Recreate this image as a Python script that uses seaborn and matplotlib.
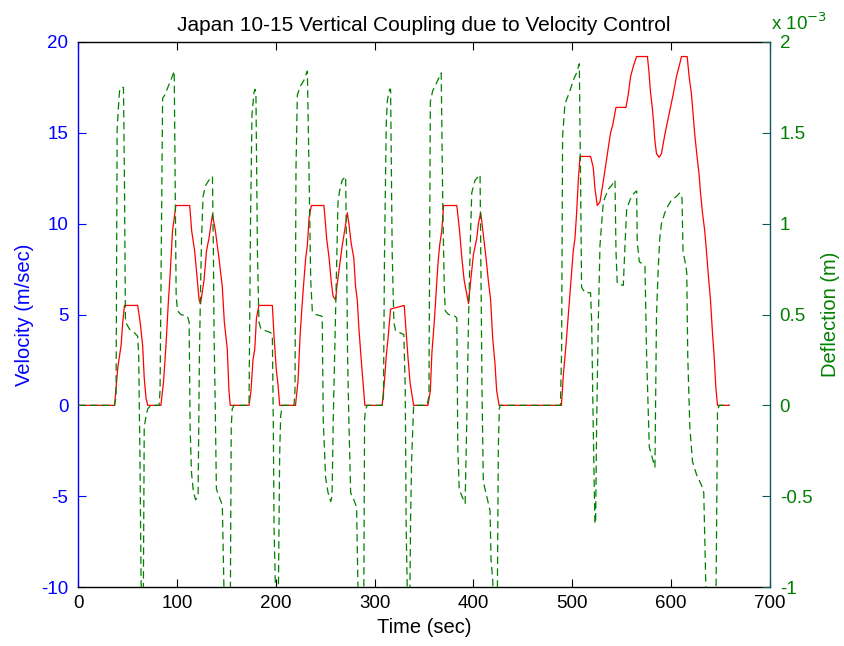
import matplotlib
matplotlib.use("Agg")
import matplotlib.pyplot as plt
import seaborn as sns
from matplotlib.ticker import FixedLocator, FuncFormatter

# Vehicle speed over the Japan 10-15 drive cycle (s, m/s)
vel_t = [
    0, 37, 40.3, 43.6, 45.3, 47, 60.4, 62.8, 65.4, 67, 68.8, 70.5,
    83.9, 86.6, 89, 91.3, 93.3, 95.6, 99, 113, 115, 118, 120, 122.5, 124,
    127.5, 130, 132.5, 136, 139, 142.6, 146, 148, 151, 152.7, 154,
    173, 175, 177, 178.8, 180.5, 183, 196.6, 198.3, 200.7, 202.4, 204,
    220, 222.6, 224.6, 226.3, 228, 230.3, 232, 233.7, 236, 248.8,
    251.5, 254, 256, 258, 260.6, 262, 264.6, 267.3, 269.7, 272.4,
    274, 276.4, 279, 280.8, 282.5, 284.2, 286.5, 288.5, 290.2,
    307.7, 310, 311.8, 313.8, 316.2, 330, 332, 334, 336, 339.5,
    354, 356.4, 358, 360.4, 362.4, 364, 365.8, 368, 369.8, 383.2,
    386, 388.3, 390.6, 392.6, 395, 397.3, 400, 403.4, 405, 407.4,
    410, 412.8, 415, 417.4, 419.5, 421.8, 423.5, 426,
    489, 491, 493.6, 496, 498.3, 501, 502.7, 504.4, 506, 507.8, 518.5,
    521.2, 523, 525.3, 528, 530.7, 534, 536.4, 538.7, 540.8, 544.2, 554.3,
    556.6, 559, 561.7, 565, 576, 577.5, 579, 581, 582.5, 583.5, 585.2, 587.9,
    590.2, 593.6, 597, 599.7, 602, 605.4, 607.8, 610.5, 616.2, 618.2,
    620.6, 622.3, 623.9, 626.3, 628.3, 629.7, 631.7, 634, 635.7, 637.4,
    639.8, 641.8, 643.5, 645.2, 646.9, 659,
]
vel_v = [
    0, 0, 2.1, 3.3, 4.6, 5.5, 5.5, 4.6, 3.3, 1.5, 0.4, 0,
    0, 1.35, 3.3, 5.6, 7.3, 9.6, 11.0, 11.0, 9.6, 8.5, 7.3, 5.8, 5.6,
    6.9, 8.5, 9.2, 10.5, 9.6, 8.1, 6.5, 4.6, 3.1, 0.8, 0,
    0, 0.8, 2.5, 3.1, 4.8, 5.5, 5.5, 3.8, 1.9, 1.1, 0,
    0, 1.35, 3.8, 5.2, 6.5, 8.1, 8.8, 10.3, 11.0, 11.0,
    9.2, 8.1, 6.9, 6.0, 5.8, 6.6, 7.7, 8.8, 9.6, 10.6,
    10.0, 8.9, 8.1, 6.5, 5.8, 4.2, 2.5, 1.15, 0,
    0, 1.35, 2.7, 3.8, 5.3, 5.5, 4.0, 2.5, 1.2, 0,
    0, 0.8, 2.9, 4.6, 6.3, 7.7, 8.8, 9.6, 11.0, 11.0,
    9.6, 8.1, 6.9, 6.3, 5.6, 6.9, 8.3, 9.2, 10.0, 10.6,
    9.4, 8.1, 6.9, 5.8, 3.7, 2.3, 0.8, 0,
    0, 1.7, 3.3, 5.0, 6.7, 8.5, 9.2, 10.6, 12.3, 13.7, 13.7,
    13.1, 11.9, 11.0, 11.2, 12.1, 13.3, 14.2, 15.0, 15.4, 16.4, 16.4,
    17.1, 18.1, 18.65, 19.2, 19.2, 18.4, 17.3, 16.35, 15.4, 14.6, 13.85, 13.65,
    13.85, 14.9, 15.8, 16.5, 17.1, 18.1, 18.6, 19.2, 19.2, 18.1,
    17.1, 16.0, 14.9, 13.65, 12.7, 11.7, 10.6, 9.6, 8.5, 7.3,
    5.8, 4.0, 2.7, 1.0, 0, 0,
]

# Vertical deflection (units of 1e-3 m)
defl_t = [
    0, 37, 38.5, 39.6, 41, 42, 43.6, 46, 47, 48, 52, 57, 60.4,
    61.4, 62.7, 63.8, 64.5, 66, 67, 68.8, 70.5, 73.8, 82,
    83, 85.6, 88, 92.3, 94, 97.3, 98.3, 99.3, 100.7, 104, 110.7, 112.4,
    113.4, 114.8, 116.8, 119, 121.5, 122.8, 124, 125, 126.5, 129, 132.5, 136,
    137, 137.6, 138.6, 140, 142.6, 146, 147.6, 149, 154, 155, 156, 157.7,
    173, 174.5, 176, 178, 179, 180, 181.5, 183, 185, 195, 196.6,
    197.6, 198.3, 199.3, 200.3, 202.5, 204, 205, 206.7, 218.5,
    219.5, 220.5, 221.9, 225.3, 228.6, 232, 233.3, 235.4, 237, 240.4, 247,
    248.1, 250.5, 252.9, 255.6, 257, 258.2, 259.6, 261.3, 263, 264.6, 267.3, 270.7,
    271.7, 272.7, 274, 275.8, 279, 281.8, 283.2, 284.5, 289, 289.9, 290.9, 292.6,
    307.7, 309, 310, 311.8, 313, 315.2, 316.2, 317.8, 319.5, 321.2, 329.6,
    331, 332, 333.5, 335.5, 336.5, 337.5, 338.5, 339.5, 353,
    355, 356.4, 358.7, 361.4, 364.8, 367.4, 368, 369, 370.5, 371.5, 374.8, 381.5, 383.2,
    384.2, 385.6, 388.3, 391.6, 393.3, 395, 396.6, 398.3, 401.7, 406.7,
    407.7, 408.7, 410, 413.4, 416.8, 417.8, 419.5, 421, 424, 425.2, 426.2, 427,
    488, 489.2, 490.2, 492.6, 497.6, 501, 504.4, 507.1, 508.4, 509.4, 512.8, 518.5,
    519.6, 521.2, 522.9, 523.6, 524.6, 526.3, 528, 531.4, 536.4, 539.8, 543.2,
    544.2, 545.5, 551.6, 553.3, 555, 558.3, 562.7, 565.1, 565.7, 567.8, 573.5,
    575.2, 577.9, 583.6, 585.2, 586.9, 588.5, 590.2, 593.6, 597, 600.3, 605.4, 608.8,
    611, 612, 614.8, 615.8, 616.8, 618.9, 621.6, 625.6, 630.7, 633, 635.1, 636.5,
    645.2, 646.9, 649, 659,
]
defl_v = [
    0, 0, 0.05, 1.52, 1.65, 1.73, 1.75, 1.75, 1.23, 0.46, 0.42, 0.40, 0.38,
    0.27, -0.31, -0.96, -1.15, -1.15, -0.12, -0.06, -0.02, 0, 0,
    0.08, 1.69, 1.71, 1.77, 1.79, 1.84, 1.2, 0.60, 0.52, 0.50, 0.49, 0.46,
    -0.12, -0.37, -0.48, -0.52, -0.50, 0.27, 0.65, 0.92, 1.15, 1.21, 1.24, 1.26,
    0.83, 0.40, 0.08, -0.46, -0.50, -0.55, -1.0, -1.2, -1.2, -0.12, -0.02, 0,
    0, 1.0, 1.6, 1.72, 1.74, 1.71, 0.85, 0.46, 0.42, 0.40, 0.38,
    -0.12, -0.67, -0.92, -1.15, -1.15, -0.27, -0.06, 0, 0,
    0.08, 1.3, 1.71, 1.76, 1.79, 1.84, 1.42, 0.69, 0.52, 0.50, 0.49,
    -0.08, -0.40, -0.48, -0.53, -0.50, -0.08, 0.27, 0.69, 1.12, 1.18, 1.24, 1.26,
    0.85, 0.27, -0.08, -0.48, -0.52, -0.56, -1.0, -1.2, -1.2, -0.08, -0.02, 0,
    0, 0.05, 0.8, 1.55, 1.68, 1.74, 1.74, 0.85, 0.46, 0.41, 0.39,
    0.1, -0.69, -1.15, -1.15, -0.6, -0.3, -0.15, 0, 0,
    0.05, 1.67, 1.73, 1.76, 1.80, 1.83, 1.54, 1.1, 0.65, 0.52, 0.50, 0.49, 0.48,
    -0.23, -0.46, -0.50, -0.54, -0.08, 0.46, 0.85, 1.17, 1.24, 1.27,
    0.65, 0.08, -0.42, -0.50, -0.58, -0.85, -0.96, -1.2, -1.2, -0.23, -0.02, 0,
    0, 0.3, 1.48, 1.66, 1.73, 1.79, 1.83, 1.88, 1.23, 0.65, 0.62, 0.62,
    0.46, -0.12, -0.65, -0.65, -0.12, 0.46, 0.88, 1.12, 1.19, 1.21, 1.24,
    0.85, 0.67, 0.66, 0.88, 1.08, 1.13, 1.17, 1.18, 0.9, 0.79, 0.77,
    0.27, -0.23, -0.34, 0.5, 0.75, 0.92, 1.0, 1.06, 1.10, 1.13, 1.15, 1.17,
    1.14, 0.85, 0.77, 0.73, 0.27, -0.12, -0.31, -0.38, -0.44, -0.48, -1.0, -1.2,
    -1.2, -0.02, 0, 0,
]

x_ticks = [0, 100, 200, 300, 400, 500, 600, 700]
vel_ticks = [-10, -5, 0, 5, 10, 15, 20]
defl_ticks = [-1, -0.5, 0, 0.5, 1, 1.5, 2]

BLUE = "#0000ff"
GREEN = "#008000"
TEAL = "#0b5c5c"

sns.set_theme(style="white")
plt.rcParams["font.family"] = ["Liberation Sans", "DejaVu Sans"]
plt.rcParams["axes.unicode_minus"] = False

fig = plt.figure(figsize=(8.44, 6.46), dpi=100)
ax = fig.add_axes([78 / 844, 59 / 646, 692 / 844, 545 / 646])
ax2 = ax.twinx()

sns.lineplot(x=vel_t, y=vel_v, ax=ax, color="red", linewidth=0.9,
             estimator=None, sort=False)
sns.lineplot(x=defl_t, y=defl_v, ax=ax2, color=GREEN, linewidth=0.9,
             linestyle=(0, (6, 3.5)), estimator=None, sort=False)

ax.set_xlim(0, 700)
ax.set_ylim(-10, 20)
ax2.set_ylim(-1, 2)
ax.xaxis.set_major_locator(FixedLocator(x_ticks))
ax.yaxis.set_major_locator(FixedLocator(vel_ticks))
ax2.yaxis.set_major_locator(FixedLocator(defl_ticks))
ax2.yaxis.set_major_formatter(FuncFormatter(lambda v, p: f"{v:g}"))

fs = 13.5
ax.tick_params(axis="x", direction="in", top=True, bottom=True, length=6,
               width=0.8, color="black", labelcolor="black", labelsize=fs, pad=6)
ax.tick_params(axis="y", direction="in", left=True, right=False, length=6,
               width=0.8, color=BLUE, labelcolor=BLUE, labelsize=fs, pad=7)
ax2.tick_params(axis="y", direction="in", right=True, length=6, width=0.8,
                color=TEAL, labelcolor=GREEN, labelsize=fs, pad=7)

for name in ("top", "bottom"):
    ax.spines[name].set_color("black")
    ax.spines[name].set_linewidth(1.0)
ax.spines["left"].set_color(BLUE)
ax.spines["left"].set_linewidth(1.0)
ax.spines["right"].set_visible(False)
for name in ("left", "top", "bottom"):
    ax2.spines[name].set_visible(False)
ax2.spines["right"].set_color(TEAL)
ax2.spines["right"].set_linewidth(1.0)

ax.set_title("Japan 10-15 Vertical Coupling due to Velocity Control",
             fontsize=15, color="black", pad=8)
ax.set_xlabel("Time (sec)", fontsize=14.5, color="black", labelpad=4)
ax.set_ylabel("Velocity (m/sec)", fontsize=14.5, color=BLUE, labelpad=5)
ax2.set_ylabel("Deflection (m)", fontsize=14.5, color=GREEN, rotation=90,
               labelpad=6)

fig.text(771 / 844, 1 - 30 / 646, r"x 10$^{-3}$", color=GREEN, fontsize=fs,
         ha="left", va="baseline")

fig.savefig("out.png", dpi=100, facecolor="white")
